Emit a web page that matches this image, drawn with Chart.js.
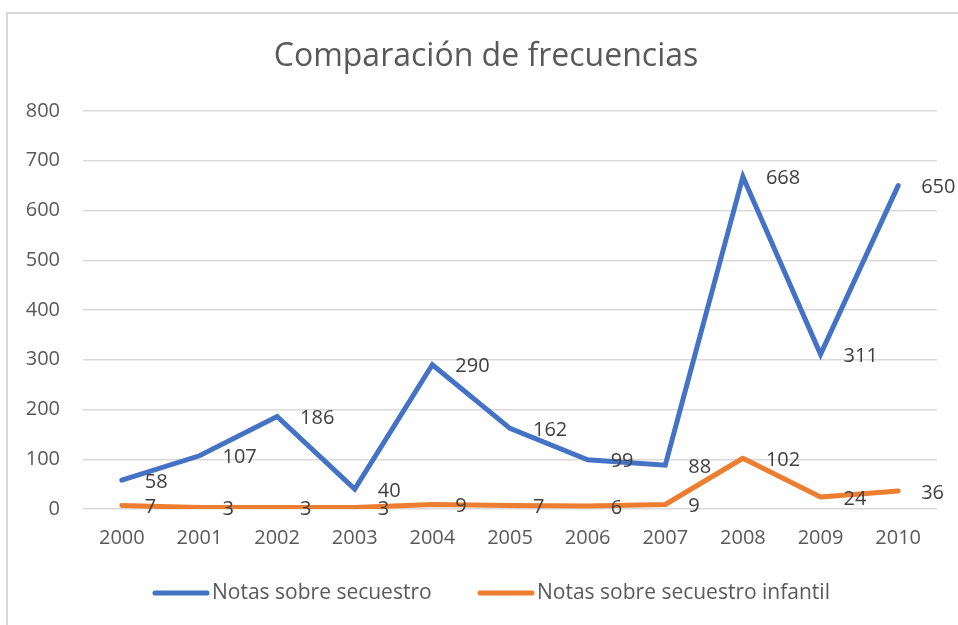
<!DOCTYPE html>
<html>
<head>
<meta charset="utf-8">
<style>
  html, body { margin: 0; padding: 0; background: #ffffff; }
  #wrap { width: 958px; height: 625px; position: relative; }
</style>
<script src="https://cdn.jsdelivr.net/npm/chart.js@4/dist/chart.umd.min.js"></script>
</head>
<body>
<div id="wrap"><canvas id="c" width="958" height="625"></canvas></div>
<script>
const chartTitle = "Comparación de frecuencias";
const years = ["2000","2001","2002","2003","2004","2005","2006","2007","2008","2009","2010"];
const seriesNames = ["Notas sobre secuestro", "Notas sobre secuestro infantil"];
const secuestro = [58, 107, 186, 40, 290, 162, 99, 88, 668, 311, 650];
const secuestroInfantil = [7, 3, 3, 3, 9, 7, 6, 9, 102, 24, 36];
const seriesColors = ["#4472C4", "#ED7D31"];

const FONT = "'Open Sans', 'Noto Sans', sans-serif";

const framePlugin = {
  id: 'frame',
  beforeDraw(chart) {
    const ctx = chart.ctx;
    ctx.save();
    ctx.fillStyle = '#ffffff';
    ctx.fillRect(0, 0, chart.width, chart.height);
    ctx.strokeStyle = '#d9d9d9';
    ctx.lineWidth = 2;
    ctx.beginPath();
    ctx.moveTo(7, chart.height);
    ctx.lineTo(7, 13);
    ctx.lineTo(chart.width, 13);
    ctx.stroke();
    // title
    ctx.font = "32px " + FONT;
    ctx.fillStyle = '#595959';
    ctx.textAlign = 'center';
    ctx.textBaseline = 'middle';
    ctx.fillText(chartTitle, 486, 57);
    ctx.restore();
  }
};

const labelPlugin = {
  id: 'pointLabels',
  afterDatasetsDraw(chart) {
    const ctx = chart.ctx;
    ctx.save();
    ctx.font = "20px " + FONT;
    ctx.fillStyle = '#404040';
    ctx.textAlign = 'left';
    ctx.textBaseline = 'middle';
    chart.data.datasets.forEach((ds, i) => {
      const meta = chart.getDatasetMeta(i);
      meta.data.forEach((pt, j) => {
        ctx.fillText(String(ds.data[j]), pt.x + 23, pt.y + 2);
      });
    });
    ctx.restore();
  }
};

const legendPlugin = {
  id: 'customLegend',
  afterDraw(chart) {
    const ctx = chart.ctx;
    ctx.save();
    ctx.font = "21px " + FONT;
    ctx.textBaseline = 'middle';
    ctx.textAlign = 'left';
    const y = 593;
    const starts = [153, 478];
    chart.data.datasets.forEach((ds, i) => {
      const x0 = starts[i];
      ctx.strokeStyle = ds.borderColor;
      ctx.lineWidth = 5;
      ctx.lineCap = 'round';
      ctx.beginPath();
      ctx.moveTo(x0 + 2, y);
      ctx.lineTo(x0 + 54, y);
      ctx.stroke();
      ctx.fillStyle = '#595959';
      ctx.fillText(ds.label, x0 + 59, y);
    });
    ctx.restore();
  }
};

new Chart(document.getElementById('c'), {
  type: 'line',
  data: {
    labels: years,
    datasets: [
      {
        label: seriesNames[0],
        data: secuestro,
        borderColor: seriesColors[0],
        backgroundColor: seriesColors[0],
        borderWidth: 5,
        pointRadius: 0,
        tension: 0,
        borderCapStyle: 'round',
        borderJoinStyle: 'miter',
        fill: false
      },
      {
        label: seriesNames[1],
        data: secuestroInfantil,
        borderColor: seriesColors[1],
        backgroundColor: seriesColors[1],
        borderWidth: 5,
        pointRadius: 0,
        tension: 0,
        borderCapStyle: 'round',
        borderJoinStyle: 'round',
        fill: false
      }
    ]
  },
  options: {
    responsive: false,
    animation: false,
    devicePixelRatio: 1,
    layout: { padding: { left: 0, right: 21, top: 111, bottom: 0 } },
    plugins: {
      legend: { display: false },
      tooltip: { enabled: false },
      title: { display: false }
    },
    scales: {
      x: {
        offset: true,
        grid: { display: false, drawTicks: false },
        border: { display: false },
        ticks: {
          color: '#595959',
          font: { family: FONT, size: 20 },
          padding: 17,
          maxRotation: 0
        },
        afterFit(scale) { scale.height = 116; }
      },
      y: {
        min: 0,
        max: 800,
        grid: { color: '#d9d9d9', lineWidth: 1.5, drawTicks: false },
        border: { display: false },
        ticks: {
          stepSize: 100,
          color: '#595959',
          font: { family: FONT, size: 20 },
          padding: 23
        },
        afterFit(scale) { scale.width = 83; }
      }
    }
  },
  plugins: [framePlugin, labelPlugin, legendPlugin]
});
</script>
</body>
</html>
